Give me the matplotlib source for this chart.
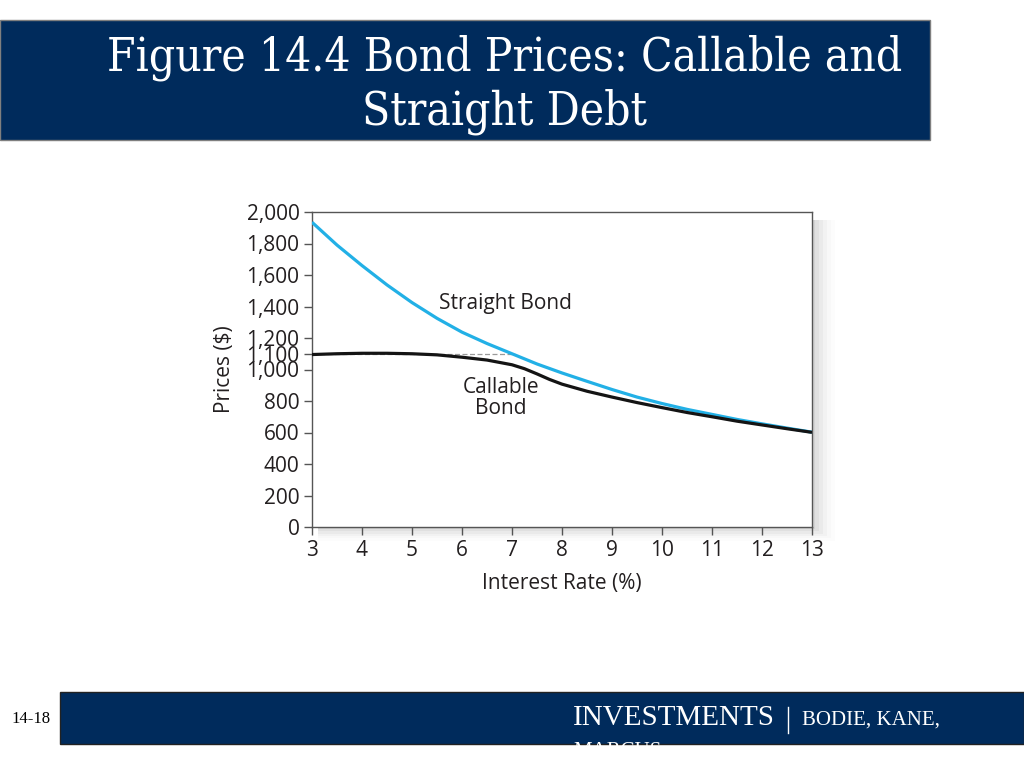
import matplotlib
matplotlib.use("Agg")
import matplotlib.pyplot as plt
from matplotlib.patches import Rectangle

# ---- data ----
straight_x = [3, 3.5, 4, 4.5, 5, 5.5, 6, 6.5, 7, 7.5, 8, 8.5, 9, 9.5, 10, 10.5, 11, 11.5, 12, 12.5, 13]
straight_y = [1935, 1790, 1660, 1537, 1425, 1325, 1237, 1165, 1100, 1035, 978, 925, 873, 825, 784, 747, 715, 683, 655, 628, 602]
callable_x = [3, 3.5, 4, 4.5, 5, 5.5, 6, 6.5, 7, 7.25, 7.5, 7.75, 8, 8.5, 9, 9.5, 10, 10.5, 11, 11.5, 12, 12.5, 13]
callable_y = [1095, 1100, 1103, 1103, 1100, 1093, 1078, 1060, 1030, 1005, 972, 937, 907, 862, 825, 790, 758, 727, 700, 672, 648, 624, 601]
call_price = 1100
call_line_end = 7.05
yticks = [0, 200, 400, 600, 800, 1000, 1100, 1200, 1400, 1600, 1800, 2000]
xticks = [3, 4, 5, 6, 7, 8, 9, 10, 11, 12, 13]

title = "Figure 14.4 Bond Prices: Callable and\nStraight Debt"
navy = "#002B5C"
ink = "#231F20"
sans = ["Open Sans", "DejaVu Sans"]
fs = 15

fig = plt.figure(figsize=(10.24, 7.68), dpi=100)
W, H = 1024, 768

def box(x0, y0, x1, y1):
    return (x0 / W, 1 - y1 / H, (x1 - x0) / W, (y1 - y0) / H)

# title banner
x, y, w, h = box(0, 20, 930, 140)
fig.patches.append(Rectangle((x, y), w, h, transform=fig.transFigure,
                             facecolor=navy, edgecolor="#7f7f7f", lw=1.0, zorder=-2))
fig.text(505 / W, 1 - 85 / H, title, ha="center", va="center", color="white",
         fontsize=33, family=["DejaVu Serif"], fontstretch="condensed", linespacing=1.22)

# footer bar
x, y, w, h = box(60, 692, 1024, 744)
fig.patches.append(Rectangle((x, y), w, h, transform=fig.transFigure,
                             facecolor=navy, edgecolor="#222222", lw=1.0, zorder=-2))
fig.text(11 / W, 1 - 719 / H, "14-18", ha="left", va="center", color="black",
         fontsize=12, family=["Liberation Serif"])
fig.text(573 / W, 1 - 718 / H, "INVESTMENTS", ha="left", va="center", color="white",
         fontsize=21, family=["Liberation Serif"])
fig.add_artist(plt.Line2D([788 / W, 788 / W], [1 - 707 / H, 1 - 733 / H],
                          transform=fig.transFigure, color="white", lw=1.0))
fig.text(802 / W, 1 - 720 / H, "BODIE, KANE,", ha="left", va="center", color="white",
         fontsize=15, family=["Liberation Serif"])
fig.text(573 / W, 1 - 752 / H, "MARCUS", ha="left", va="center", color="white",
         fontsize=15, family=["Liberation Serif"])

# axes shadow
for i, a in enumerate([0.05, 0.04, 0.03, 0.022, 0.015, 0.01]):
    off = 3 + i * 4
    x, y, w, h = box(318, 220, 812 + off, 527 + off * 0.6)
    fig.patches.append(Rectangle((x, y), w, h, transform=fig.transFigure,
                                 facecolor="black", edgecolor="none", alpha=a, zorder=-1))

ax = fig.add_axes(box(312, 212, 812, 527))
ax.set_facecolor("white")
ax.plot(straight_x, straight_y, color="#22B0E6", lw=2.3, solid_capstyle="butt", zorder=3)
ax.plot(callable_x, callable_y, color="#141414", lw=2.3, solid_capstyle="butt", zorder=4)
ax.plot([straight_x[0], call_line_end], [call_price, call_price], color="#9a9a9a",
        lw=0.9, ls=(0, (4, 2)), zorder=2)

ax.set_xlim(3, 13)
ax.set_ylim(0, 2000)
ax.set_xticks(xticks)
ax.set_yticks(yticks)
ax.set_yticklabels([f"{v:,}" for v in yticks])
ax.tick_params(direction="out", length=6, width=1, colors="#555555",
               labelcolor=ink, labelsize=fs, pad=3)
for lab in ax.get_xticklabels() + ax.get_yticklabels():
    lab.set_family(sans)
for s in ax.spines.values():
    s.set_color("#555555")
    s.set_linewidth(1.0)

ax.set_xlabel("Interest Rate (%)", fontsize=fs, family=sans, color=ink, labelpad=9)
ax.set_ylabel("Prices ($)", fontsize=fs, family=sans, color=ink, labelpad=8)

ax.text(6.86, 1416, "Straight Bond", ha="center", va="center", fontsize=fs,
        family=sans, color=ink)
ax.text(6.78, 819, "Callable\nBond", ha="center", va="center", fontsize=fs,
        family=sans, color=ink, linespacing=1.0)

fig.savefig("out.png", dpi=100, facecolor="white")
